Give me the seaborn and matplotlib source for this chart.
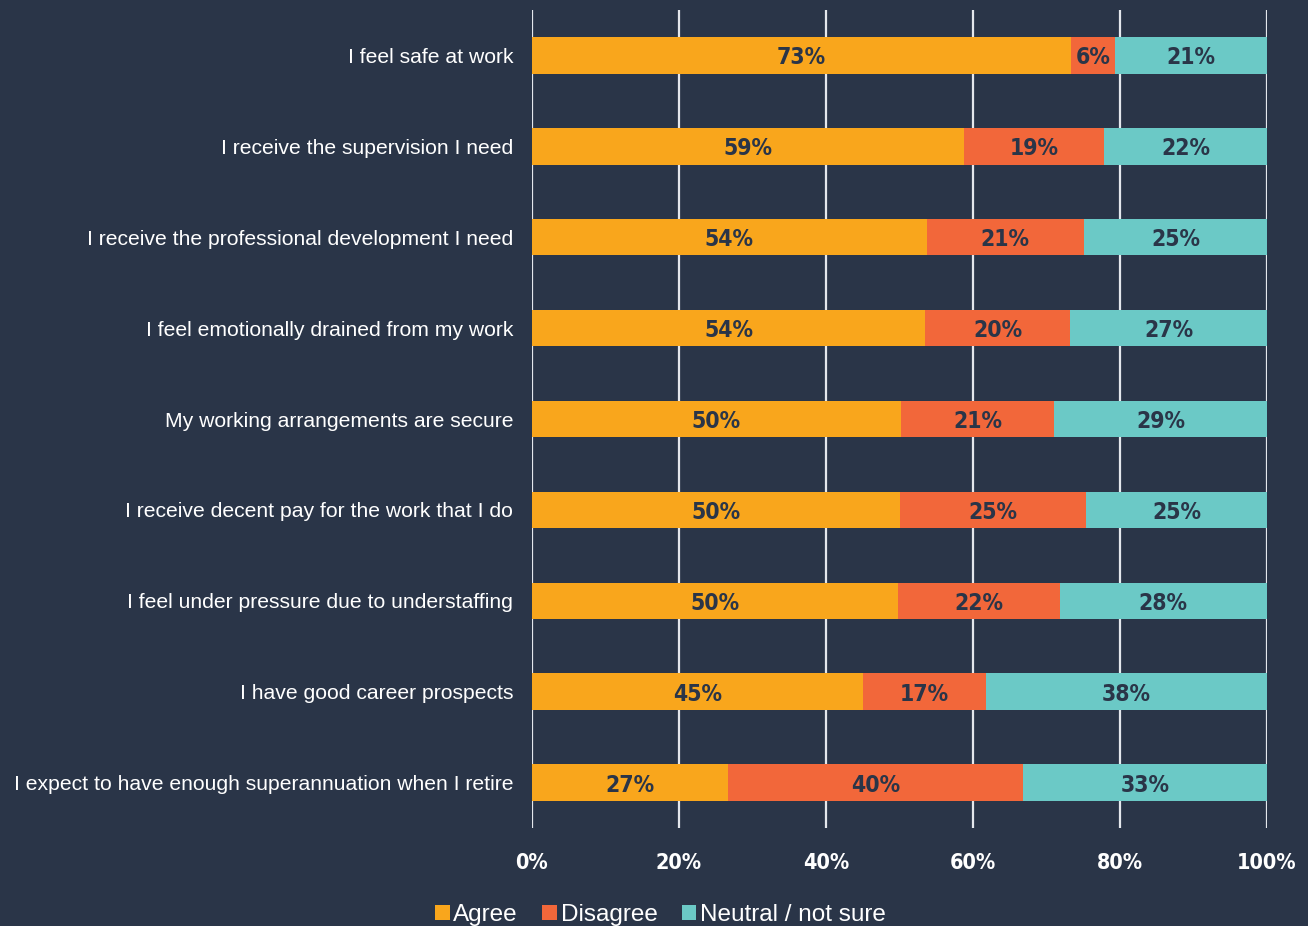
import matplotlib
matplotlib.use("Agg")
import matplotlib.pyplot as plt
from matplotlib import font_manager
from matplotlib.patches import Patch
import seaborn as sns
import pandas as pd

statements = [
    "I feel safe at work",
    "I receive the supervision I need",
    "I receive the professional development I need",
    "I feel emotionally drained from my work",
    "My working arrangements are secure",
    "I receive decent pay for the work that I do",
    "I feel under pressure due to understaffing",
    "I have good career prospects",
    "I expect to have enough superannuation when I retire",
]
agree = [73.3, 58.8, 53.7, 53.5, 50.2, 50.1, 49.8, 45.0, 26.7]
disagree = [6.0, 19.0, 21.4, 19.7, 20.8, 25.3, 22.0, 16.8, 40.1]
neutral = [20.7, 22.2, 24.9, 26.8, 29.0, 24.6, 28.2, 38.2, 33.2]
series_names = ["Agree", "Disagree", "Neutral / not sure"]
x_ticks = [0, 20, 40, 60, 80, 100]
x_tick_labels = ["0%", "20%", "40%", "60%", "80%", "100%"]

BG = "#2a3548"
COLORS = ["#f9a61c", "#f2673a", "#6bc9c6"]
LABEL_DARK = "#2a3548"

sns.set_theme(style="dark")

# pick a condensed face for the numeric labels if one is installed
fonts = font_manager.fontManager.ttflist
names = {f.name for f in fonts}
if any(f.name == "DejaVu Sans" and f.stretch == "condensed" for f in fonts):
    num_font = dict(family="DejaVu Sans", stretch="condensed")
elif "Roboto Condensed" in names:
    num_font = dict(family="Roboto Condensed")
else:
    num_font = dict(family="Roboto")
legend_family = "Liberation Sans Narrow" if "Liberation Sans Narrow" in names else "Liberation Sans"

plt.rcParams["font.family"] = ["Liberation Sans", "DejaVu Sans"]

df = pd.DataFrame({
    "statement": statements,
    "agree": agree,
    "agree_disagree": [a + d for a, d in zip(agree, disagree)],
    "total": [a + d + n for a, d, n in zip(agree, disagree, neutral)],
})

fig = plt.figure(figsize=(13.08, 9.26), dpi=100, facecolor=BG)
ax = fig.add_axes([532 / 1308, 1 - 828 / 926, 735 / 1308, 818 / 926])
ax.set_facecolor(BG)

# stacked bars: draw cumulative totals back to front
for col, color in zip(["total", "agree_disagree", "agree"], COLORS[::-1]):
    sns.barplot(data=df, x=col, y="statement", orient="h", color=color,
                saturation=1, width=0.4, linewidth=0, ax=ax)

for i in range(len(statements)):
    left = 0
    for vals in (agree, disagree, neutral):
        v = vals[i]
        ax.text(left + v / 2, i, f"{v:.0f}%", ha="center", va="center_baseline",
                color=LABEL_DARK, fontsize=16.5, fontweight="bold", **num_font)
        left += v

ax.set_xlim(0, 100)
ax.set_xticks(x_ticks)
ax.set_xticklabels(x_tick_labels)
ax.set_xlabel("")
ax.set_ylabel("")
for lab in ax.get_xticklabels():
    lab.set_fontweight("bold")
    lab.set_fontsize(15.5)
    lab.set_color("white")
    lab.set_fontfamily(num_font["family"])
    if "stretch" in num_font:
        lab.set_fontstretch(num_font["stretch"])
for lab in ax.get_yticklabels():
    lab.set_fontsize(15.2)
    lab.set_color("white")
ax.tick_params(axis="x", length=0, pad=18)
ax.tick_params(axis="y", length=0, pad=13.5)

ax.xaxis.grid(True, color="#e4e7ec", linewidth=1.6)
ax.yaxis.grid(False)
ax.set_axisbelow(True)
for s in ax.spines.values():
    s.set_visible(False)

handles = [Patch(facecolor=c, edgecolor="none") for c in COLORS]
fig.legend(handles, series_names, loc="lower center", bbox_to_anchor=(0.505, -0.024),
           ncol=3, frameon=False, handlelength=0.6, handleheight=0.6,
           handletextpad=0.15, columnspacing=1.0,
           prop=dict(family=legend_family, size=17.5), labelcolor="white")

fig.savefig("out.png", dpi=100, facecolor=BG)
